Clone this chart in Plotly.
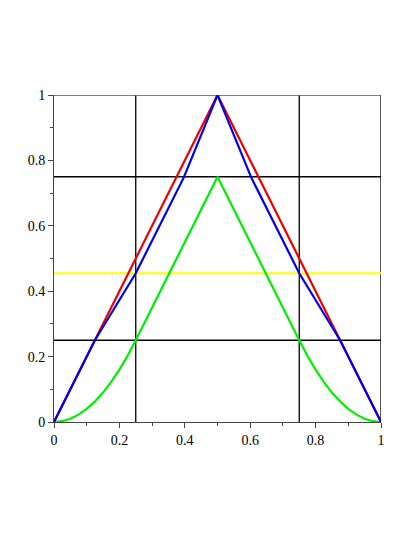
import plotly.graph_objects as go

# red: triangle
red_x = [0, 0.5, 1]
red_y = [0, 1, 0]

# blue: polygon approximation
blue_x = [0, 0.125, 0.25, 0.397, 0.5, 0.603, 0.75, 0.875, 1]
blue_y = [0, 0.25, 0.455, 0.748, 1, 0.748, 0.455, 0.25, 0]

# green: curved ends, straight middle
green_x = [0, 0.025, 0.05, 0.075, 0.1, 0.125, 0.15, 0.175, 0.2, 0.225, 0.25, 0.5,
           0.75, 0.775, 0.8, 0.825, 0.85, 0.875, 0.9, 0.925, 0.95, 0.975, 1]
green_y = [0, 0.0025, 0.01, 0.0225, 0.04, 0.0625, 0.09, 0.1225, 0.16, 0.2025, 0.25, 0.75,
           0.25, 0.2025, 0.16, 0.1225, 0.09, 0.0625, 0.04, 0.0225, 0.01, 0.0025, 0]

yellow_level = 0.455
grid_x = [0.25, 0.75, 1]
grid_y = [0.25, 0.75, 1]

fig = go.Figure()
for gx in grid_x:
    fig.add_trace(go.Scatter(x=[gx, gx], y=[0, 1], mode='lines', line=dict(color='black', width=1.3)))
for gy in grid_y:
    fig.add_trace(go.Scatter(x=[0, 1], y=[gy, gy], mode='lines',
                             line=dict(color='#555555' if gy == 1 else 'black', width=1.3)))
fig.add_trace(go.Scatter(x=[0, 1], y=[yellow_level, yellow_level], mode='lines', line=dict(color='#ffff00', width=2)))
fig.add_trace(go.Scatter(x=green_x, y=green_y, mode='lines', line=dict(color='#00ee00', width=2.2)))
fig.add_trace(go.Scatter(x=red_x, y=red_y, mode='lines', line=dict(color='#ee0000', width=2.2)))
fig.add_trace(go.Scatter(x=blue_x, y=blue_y, mode='lines', line=dict(color='#0000ee', width=2.2)))

axis = dict(range=[0, 1], dtick=0.2, showgrid=False, zeroline=False, showline=True,
            linecolor='#444444', linewidth=1, ticks='outside', ticklen=5, tickcolor='#444444',
            tickfont=dict(family='Liberation Serif', size=14, color='black'),
            minor=dict(ticks='outside', ticklen=3, dtick=0.1, tickcolor='#444444', showgrid=False))
fig.update_layout(width=419, height=543, margin=dict(l=46, r=46, t=87, b=129),
                  plot_bgcolor='white', paper_bgcolor='white', showlegend=False,
                  font=dict(family='Liberation Serif', size=14, color='black'),
                  xaxis=axis, yaxis=axis)
fig.write_html("out.html")
